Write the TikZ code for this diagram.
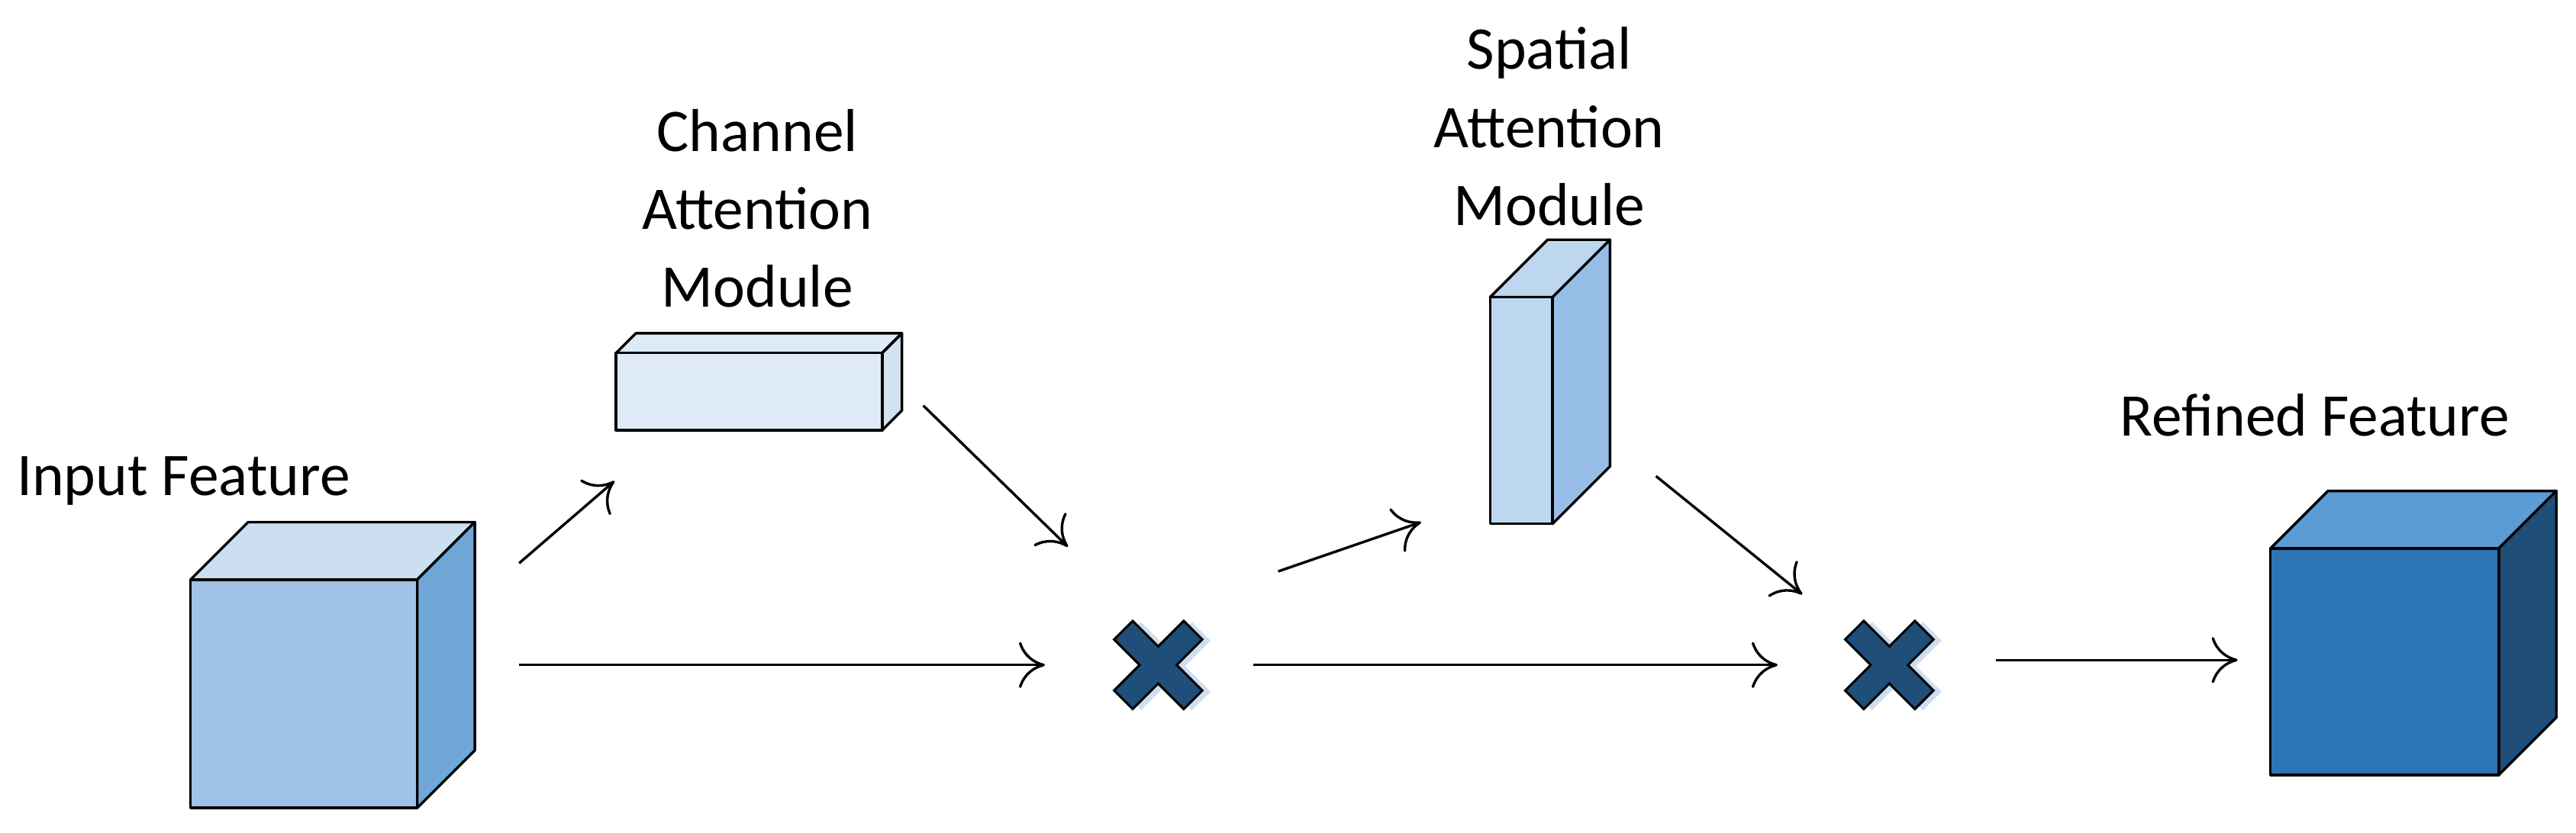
\documentclass[tikz,border=0pt]{standalone}
\usepackage{fontspec}
\setmainfont{Carlito}
\usetikzlibrary{positioning,arrows.meta}
\definecolor{inFront}{RGB}{159,194,230}
\definecolor{inTop}{RGB}{204,222,241}
\definecolor{inSide}{RGB}{112,167,214}
\definecolor{caFront}{RGB}{222,235,247}
\definecolor{caSide}{RGB}{210,226,242}
\definecolor{saFront}{RGB}{189,215,238}
\definecolor{saSide}{RGB}{150,190,230}
\definecolor{rfFront}{RGB}{46,117,182}
\definecolor{rfTop}{RGB}{93,155,213}
\definecolor{rfSide}{RGB}{31,78,121}
\definecolor{mulBlue}{RGB}{31,78,121}
\definecolor{mulGlow}{RGB}{205,222,240}
\tikzset{
  lbl/.style={font=\fontsize{21}{25}\selectfont, align=center, inner sep=0pt},
  flow/.style={black, -{To[length=9pt,width=16pt]}, line width=0.9pt},
  face/.style={draw=black, line width=0.9pt, line join=round},
}
% box: x1,y1 (front top left), x2,y2 (front bottom right), depth, front, top, side
\newcommand{\boxthree}[8]{%
  \filldraw[face, fill=#7] (#1,#2) -- (#1+#5,#2-#5) -- (#3+#5,#2-#5) -- (#3,#2) -- cycle;
  \filldraw[face, fill=#8] (#3,#2) -- (#3+#5,#2-#5) -- (#3+#5,#4-#5) -- (#3,#4) -- cycle;
  \filldraw[face, fill=#6] (#1,#2) rectangle (#3,#4);
}
\newcommand{\mulsign}[2]{%
  \begin{scope}[shift={(#1,#2)}, rotate=45]
    \fill[mulGlow, shift={(3,4)}] (8,30) -- (8,8) -- (30,8) -- (30,-8) -- (8,-8) -- (8,-30) -- (-8,-30) -- (-8,-8) -- (-30,-8) -- (-30,8) -- (-8,8) -- (-8,30) -- cycle;
    \filldraw[fill=mulBlue, draw=black, line width=0.8pt] (8,30) -- (8,8) -- (30,8) -- (30,-8) -- (8,-8) -- (8,-30) -- (-8,-30) -- (-8,-8) -- (-30,-8) -- (-30,8) -- (-8,8) -- (-8,30) -- cycle;
  \end{scope}
}
\begin{document}
\begin{tikzpicture}[x=0.02cm, y=-0.02cm]
\useasboundingbox (0,0) rectangle (1568,507);

% feature blocks
\boxthree{116}{353}{254}{492}{35}{inFront}{inTop}{inSide}
\boxthree{375}{215}{537}{262}{12}{caFront}{caFront}{caSide}
\boxthree{907}{181}{945}{319}{35}{saFront}{saFront}{saSide}
\boxthree{1382}{334}{1521}{472}{35}{rfFront}{rfTop}{rfSide}

% element-wise products
\mulsign{705}{405}
\mulsign{1150}{405}
\node (mulA) at (705,405) {};
\node (mulB) at (1150,405) {};

% labels
\node[lbl, anchor=west] (inLbl) at (10,293) {Input Feature};
\node[lbl] (caLbl) at (461,127) {Channel\\[2pt]Attention\\[2pt]Module};
\node[lbl] (saLbl) at (943,77) {Spatial\\[2pt]Attention\\[2pt]Module};
\node[lbl] (rfLbl) at (1409,253) {Refined Feature};

% arrow ends
\coordinate (inUp) at (316,343);
\coordinate (caIn) at (374,293);
\coordinate (inOut) at (316,405);
\coordinate (mulAin) at (636,405);
\coordinate (caOut) at (562,247);
\coordinate (mulAtop) at (650,333);
\coordinate (mulAup) at (778,348);
\coordinate (saIn) at (865,318);
\coordinate (mulAout) at (763,405);
\coordinate (mulBin) at (1082,405);
\coordinate (saOut) at (1008,290);
\coordinate (mulBtop) at (1097,362);
\coordinate (mulBout) at (1215,402);
\coordinate (rfIn) at (1362,402);

\draw[flow] (inUp) -- (caIn);
\draw[flow] (inOut) -- (mulAin);
\draw[flow] (caOut) -- (mulAtop);
\draw[flow] (mulAup) -- (saIn);
\draw[flow] (mulAout) -- (mulBin);
\draw[flow] (saOut) -- (mulBtop);
\draw[flow] (mulBout) -- (rfIn);
\end{tikzpicture}
\end{document}
